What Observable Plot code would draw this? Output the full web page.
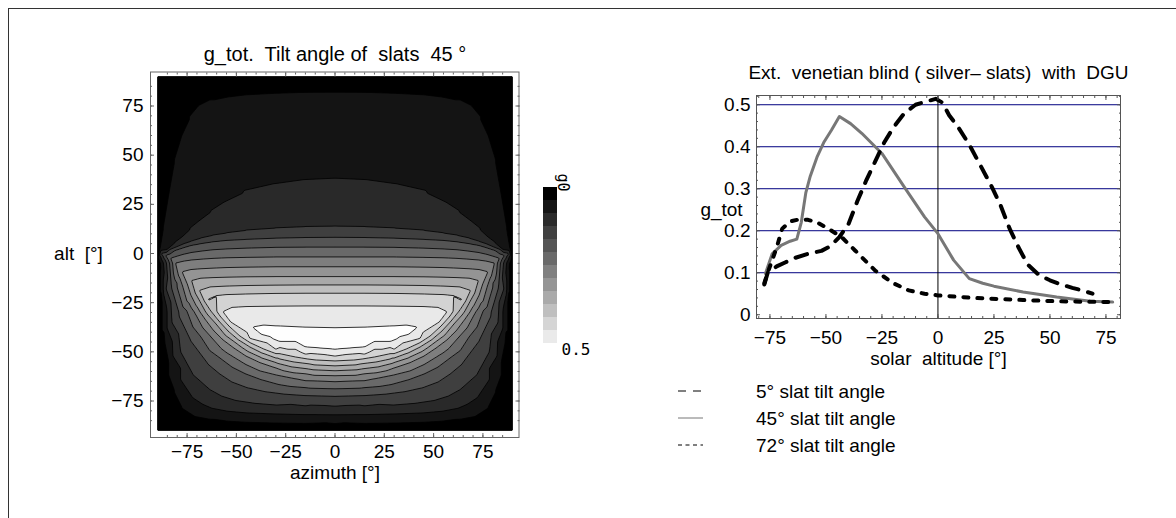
<!DOCTYPE html>
<html><head><meta charset="utf-8">
<script src="https://cdn.jsdelivr.net/npm/d3@7"></script>
<script src="https://cdn.jsdelivr.net/npm/@observablehq/plot@0.6"></script>
<style>
body{margin:0;background:#fff;}
#wrap{position:relative;width:1176px;height:518px;overflow:hidden;font-family:"Liberation Sans",Arial,sans-serif;}
#wrap svg{position:absolute;}
#border{position:absolute;left:8px;top:8px;width:1200px;height:600px;border-left:1px solid #333;border-top:1px solid #333;}
</style></head><body><div id="wrap"><div id="border"></div></div>
<script>
// ---------- contour plot data (g_tot, 45° slats) ----------
const gLevels = [0.04,0.08,0.12,0.16,0.20,0.24,0.28,0.32,0.36,0.40,0.44,0.48];
// contour lines, left half [azimuth, altitude]; mirrored to the right
const c04 = [[0,81.6],[-15,81.5],[-30,81],[-45,80.2],[-55,79],[-62,77.5],[-68,74.5],[-73,68.5],[-77,60],[-81,47],[-84,30],[-87,12],[-88.5,3],[-89.5,-2],[-88,-20],[-86.5,-40],[-84,-56],[-81,-70],[-77,-78],[-70,-82.5],[-62,-84],[-55,-85],[-45,-85.6],[-30,-86],[-15,-86.2],[0,-86.3]];
const c08 = [[0,36],[-15,35.3],[-30,33.2],[-45,29.8],[-55,25],[-62,20.5],[-68,16],[-73,12],[-77,8.3],[-81,5.3],[-85,2],[-89,-1],[-87,-20],[-85,-38],[-82,-52],[-78,-64],[-72,-73],[-67,-76.3],[-62,-78.5],[-54,-80],[-45,-80.8],[-32,-81.3],[-20,-81.6],[-10,-81.7],[0,-81.8]];
const c12 = [[0,12.8],[-15,12.6],[-30,12],[-45,11],[-55,9.8],[-62,8.8],[-68,7.5],[-73,6],[-77,4.7],[-81,3],[-84,1.8],[-88,0],[-85.5,-18],[-82.5,-35],[-78,-50],[-72,-61],[-63,-69],[-57,-72.3],[-50,-74.5],[-40,-76],[-30,-76.8],[-15,-77.2],[0,-77.4]];
const c16 = [[0,8],[-15,7.9],[-30,7.6],[-45,7],[-55,6.5],[-62,5.8],[-68,4.9],[-73,4],[-77,2.8],[-81,1.5],[-85.8,-1],[-83,-15],[-79,-30],[-73,-44],[-64,-56],[-58,-61],[-52,-65],[-44,-68],[-35,-70],[-25,-71.3],[-15,-72],[0,-72.4]];
const c20 = [[0,3],[-15,3],[-30,2.9],[-45,2.5],[-55,2.1],[-62,1.7],[-68,1],[-73,0.3],[-77,-0.6],[-80,-1.5],[-83.2,-2.5],[-80,-15],[-75,-29],[-68,-42],[-58,-53],[-52,-57.5],[-45,-61],[-37,-64],[-28,-66.5],[-15,-68],[0,-68.6]];
const c24 = [[0,-2],[-15,-2],[-30,-2],[-45,-2.2],[-55,-2.4],[-62,-2.7],[-68,-3.1],[-73,-3.5],[-77,-4.1],[-80.7,-5],[-77,-17],[-71,-30],[-63,-42],[-52,-52],[-45,-56.3],[-38,-59.5],[-30,-61.5],[-20,-63.5],[-10,-64.6],[0,-65]];
const c28 = [[0,-7],[-15,-7],[-30,-7],[-45,-7.2],[-55,-7.4],[-62,-7.7],[-68,-8],[-73,-8.4],[-77.3,-9.5],[-73,-21],[-66,-33],[-57,-43.5],[-51,-48],[-45,-52],[-38,-55.3],[-30,-58],[-15,-61],[0,-62]];
const c32 = [[0,-12],[-15,-12],[-30,-12],[-45,-12.1],[-55,-12.3],[-62,-12.5],[-68,-12.8],[-72.5,-14],[-68,-25],[-60,-36],[-50,-45.5],[-38,-52.5],[-30,-55.3],[-22,-57.5],[-11,-59],[0,-59.5]];
const c36 = [[0,-16.2],[-15,-16.2],[-30,-16.3],[-45,-16.5],[-55,-16.8],[-63,-17.2],[-68.5,-19],[-63,-29],[-54,-39.5],[-43,-47.5],[-36,-50.8],[-28,-53.5],[-13,-56],[0,-57]];
const c40 = [[0,-20.4],[-15,-20.4],[-30,-20.5],[-45,-20.8],[-55,-21.1],[-60,-21.6],[-64.2,-23.5],[-58,-32],[-48,-42],[-36,-48.5],[-28,-50.8],[-20,-52.5],[-10,-54],[0,-54.5]];
const c44 = [[0,-27],[-15,-27],[-30,-27.1],[-45,-27.3],[-52,-27.7],[-56.5,-29.8],[-53,-34.5],[-43,-43],[-30,-48.5],[-15,-51],[0,-52]];
const c48 = [[0,-38.3],[-15,-38],[-30,-37.3],[-36,-36.9],[-41,-37.8],[-37,-41],[-28,-44.5],[-15,-47.3],[0,-48.5]];
const contourLines = [c04,c08,c12,c16,c20,c24,c28,c32,c36,c40,c44,c48];
const edgePts = [[-90,90],[-45,90],[0,90],[-90,60],[-90,30],[-90,10],[-90,-5],[-90,-20],[-90,-40],[-90,-60],[-90,-80],[-90,-90],[-45,-90],[0,-90]];
const edgeG = 0;
const peakPts = [[0,-43.5],[-20,-42.5],[-32,-40.5]];
const peakG = 0.5;
const azTicks = [-75,-50,-25,0,25,50,75];
const altTicks = [-75,-50,-25,0,25,50,75];
const legendVals = [0,0.04,0.08,0.12,0.16,0.20,0.24,0.28,0.32,0.36,0.40,0.44];

// ---------- line chart data (solar altitude, g_tot) ----------
const slat5 = [[-77.5,0.072],[-76,0.1],[-72,0.115],[-68,0.125],[-64,0.135],[-58,0.145],[-52,0.152],[-48,0.163],[-44,0.185],[-40,0.215],[-36,0.27],[-32,0.32],[-28,0.365],[-24,0.41],[-20,0.445],[-15,0.48],[-10,0.5],[-5,0.508],[-1,0.514],[2,0.505],[5,0.475],[9,0.447],[14,0.405],[19,0.355],[24,0.305],[28,0.26],[32,0.205],[36,0.16],[40,0.12],[45,0.095],[50,0.082],[55,0.072],[60,0.064],[65,0.057],[69,0.05]];
const slat45 = [[-77,0.098],[-74,0.145],[-70,0.165],[-66,0.175],[-63,0.18],[-61,0.22],[-59,0.29],[-57,0.33],[-54,0.375],[-51,0.41],[-47.5,0.44],[-44,0.472],[-39,0.455],[-34,0.432],[-25,0.384],[-15,0.304],[-6,0.233],[0,0.193],[7,0.13],[14,0.086],[20,0.075],[25,0.068],[38,0.054],[53,0.042],[68,0.032],[78,0.03]];
const slat72 = [[-77.5,0.075],[-76,0.1],[-74,0.13],[-72,0.16],[-69.5,0.205],[-66,0.222],[-62,0.227],[-58,0.226],[-54,0.22],[-49,0.205],[-43,0.185],[-37,0.153],[-28,0.105],[-20,0.075],[-13,0.058],[-6,0.05],[0,0.046],[16,0.04],[38,0.035],[53,0.032],[77,0.03]];
const gTicks = [0,0.1,0.2,0.3,0.4,0.5];
const gridVals = [0.1,0.2,0.3,0.4,0.5];
const solarTicks = [-75,-50,-25,0,25,50,75];
const legendLabels = ["5° slat tilt angle","45° slat tilt angle","72° slat tilt angle"];

// ---------- build field ----------
const field = [];
function addPts(pts, g){ for (const [az,alt] of pts){ field.push({az,alt,g}); if (az !== 0) field.push({az:-az,alt,g}); } }
contourLines.forEach((pts,i) => addPts(pts, gLevels[i]));
addPts(edgePts, edgeG);
addPts(peakPts, peakG);
const toObj = a => a.map(([alt,g]) => ({alt,g}));
// thresholds sit a hair below each level so points lying on a line count as inside
const thresholds = [0, ...gLevels.map(g => +(g - 0.002).toFixed(3))];

const font = "'Liberation Sans', Arial, sans-serif";
const FS = 19;
const colorScale = {type:"linear", domain:[0,0.48], range:["black","white"], interpolate:"rgb"};
const blank = () => "";
const minor5 = d3.range(-85, 90, 5);
const gMinor = d3.range(0, 0.521, 0.02);
const solarMinor = d3.range(-80, 81, 5);

const wrap = document.getElementById("wrap");
function place(svg, left, top){ svg.style.left = left+"px"; svg.style.top = top+"px"; wrap.appendChild(svg); }

// ---------- left contour plot ----------
const left = Plot.plot({
  width: 600, height: 518,
  marginLeft: 157, marginRight: 88, marginTop: 76, marginBottom: 88,
  x: {domain:[-90,90], label:null},
  y: {domain:[-90,90], label:null},
  color: colorScale,
  style: {fontFamily: font, fontSize: FS+"px", background:"transparent", color:"black"},
  marks: [
    Plot.contour(field, {x:"az", y:"alt", fill:"g", interpolate:"barycentric", pixelSize:1,
      thresholds, stroke:"black", strokeWidth:0.8}),
    Plot.frame({stroke:"#666", insetLeft:-7, insetRight:-6.5, insetTop:-4.5, insetBottom:-7}),
    Plot.axisX({anchor:"bottom", ticks:minor5, tickSize:-2, dy:7, tickFormat:blank, stroke:"#666", label:null}),
    Plot.axisX({anchor:"bottom", ticks:azTicks, tickSize:-4, dy:7, tickFormat:blank, stroke:"#666", label:null}),
    Plot.axisX({anchor:"top", ticks:minor5, tickSize:-2, dy:-4.5, tickFormat:blank, stroke:"#666", label:null}),
    Plot.axisX({anchor:"top", ticks:azTicks, tickSize:-4, dy:-4.5, tickFormat:blank, stroke:"#666", label:null}),
    Plot.axisY({anchor:"left", ticks:minor5, tickSize:-2, dx:-7, tickFormat:blank, stroke:"#666", label:null}),
    Plot.axisY({anchor:"left", ticks:altTicks, tickSize:-4, dx:-7, tickFormat:blank, stroke:"#666", label:null}),
    Plot.axisY({anchor:"right", ticks:minor5, tickSize:-2, dx:6.5, tickFormat:blank, stroke:"#666", label:null}),
    Plot.axisY({anchor:"right", ticks:altTicks, tickSize:-4, dx:6.5, tickFormat:blank, stroke:"#666", label:null}),
    Plot.axisX({anchor:"bottom", ticks:azTicks, tickSize:0, tickPadding:14, label:null}),
    Plot.axisY({anchor:"left", ticks:altTicks, tickSize:0, tickPadding:14, label:null}),
    Plot.text(["g_tot.  Tilt angle of  slats  45 °"], {frameAnchor:"top", dy:-22, lineAnchor:"middle", fontSize:20}),
    Plot.text(["azimuth [°]"], {frameAnchor:"bottom", dy:42, lineAnchor:"middle", fontSize:FS}),
    Plot.text(["alt  [°]"], {frameAnchor:"left", dx:-79, textAnchor:"middle", fontSize:FS})
  ]
});
place(left, 0, 0);

// ---------- colour bar ----------
const bar = Plot.plot({
  width: 60, height: 210, marginLeft: 13, marginRight: 33, marginTop: 36, marginBottom: 17,
  y: {type:"band", padding:0, axis:null},
  color: colorScale,
  style: {fontFamily: font, background:"transparent", color:"black"},
  marks: [
    Plot.cell(legendVals, {y: d => d, fill: d => d}),
    Plot.text(["g0"], {frameAnchor:"top-right", dx:11, dy:-13, rotate:90, textAnchor:"start", fontFamily:"DejaVu Sans Mono", fontSize:15}),
    Plot.text(["0.5"], {frameAnchor:"bottom-right", dx:4, dy:6, textAnchor:"start", lineAnchor:"middle", fontFamily:"DejaVu Sans Mono", fontSize:16})
  ]
});
place(bar, 530, 150);

// ---------- right line chart ----------
const right = Plot.plot({
  width: 576, height: 518,
  marginLeft: 156, marginRight: 56, marginTop: 95, marginBottom: 200,
  x: {domain:[-81,81.5], label:null},
  y: {domain:[-0.009,0.522], label:null},
  style: {fontFamily: font, fontSize: FS+"px", background:"transparent", color:"black"},
  marks: [
    Plot.ruleY(gridVals, {stroke:"#000080", strokeWidth:1}),
    Plot.ruleX([0], {stroke:"black", strokeWidth:1}),
    Plot.line(toObj(slat45), {x:"alt", y:"g", stroke:"#777", strokeWidth:3}),
    Plot.line(toObj(slat5), {x:"alt", y:"g", stroke:"black", strokeWidth:4, strokeDasharray:"12,10", strokeLinecap:"round"}),
    Plot.line(toObj(slat72), {x:"alt", y:"g", stroke:"black", strokeWidth:4, strokeDasharray:"5,9", strokeLinecap:"round"}),
    Plot.frame({stroke:"#555"}),
    Plot.axisY({anchor:"left", ticks:gMinor, tickSize:-2, tickFormat:blank, stroke:"#555", label:null}),
    Plot.axisY({anchor:"left", ticks:gTicks, tickSize:-4, tickFormat:blank, stroke:"#555", label:null}),
    Plot.axisY({anchor:"right", ticks:gMinor, tickSize:-2, tickFormat:blank, stroke:"#555", label:null}),
    Plot.axisY({anchor:"right", ticks:gTicks, tickSize:-4, tickFormat:blank, stroke:"#555", label:null}),
    Plot.axisX({anchor:"bottom", ticks:solarMinor, tickSize:-2, tickFormat:blank, stroke:"#555", label:null}),
    Plot.axisX({anchor:"bottom", ticks:solarTicks, tickSize:-4, tickFormat:blank, stroke:"#555", label:null}),
    Plot.axisX({anchor:"top", ticks:solarMinor, tickSize:-2, tickFormat:blank, stroke:"#555", label:null}),
    Plot.axisX({anchor:"top", ticks:solarTicks, tickSize:-4, tickFormat:blank, stroke:"#555", label:null}),
    Plot.axisY({anchor:"left", ticks:gTicks, tickSize:0, tickPadding:6, tickFormat: d => d === 0 ? "0" : d.toFixed(1), label:null}),
    Plot.axisX({anchor:"bottom", ticks:solarTicks, tickSize:0, tickPadding:12, label:null}),
    Plot.text(["Ext.  venetian blind ( silver– slats)  with  DGU"], {frameAnchor:"top", dy:-23, lineAnchor:"middle", fontSize:FS}),
    Plot.text(["solar  altitude [°]"], {frameAnchor:"bottom", dy:40, lineAnchor:"middle", fontSize:FS}),
    Plot.text(["g_tot"], {frameAnchor:"left", dx:-35, dy:2.5, textAnchor:"middle", fontSize:FS})
  ]
});
place(right, 600, 0);

// ---------- line legend ----------
const legendStyles = [
  {stroke:"black", dash:"8,7", width:1},
  {stroke:"#777", dash:null, width:1},
  {stroke:"black", dash:"4,3.5", width:1}
];
const leg = d3.create("svg").attr("width", 300).attr("height", 90)
  .style("font-family", font).style("font-size", FS+"px");
const rows = leg.selectAll("g").data(legendLabels).join("g")
  .attr("transform", (d,i) => `translate(0,${13 + i*27})`);
rows.append("line").attr("x1", 0).attr("x2", 25).attr("y1", 0).attr("y2", 0)
  .attr("stroke", (d,i) => legendStyles[i].stroke)
  .attr("stroke-width", (d,i) => legendStyles[i].width)
  .attr("stroke-dasharray", (d,i) => legendStyles[i].dash);
rows.append("text").attr("x", 78).attr("y", 0).attr("dy", "0.35em").text(d => d);
place(leg.node(), 678, 378);
</script></body></html>
